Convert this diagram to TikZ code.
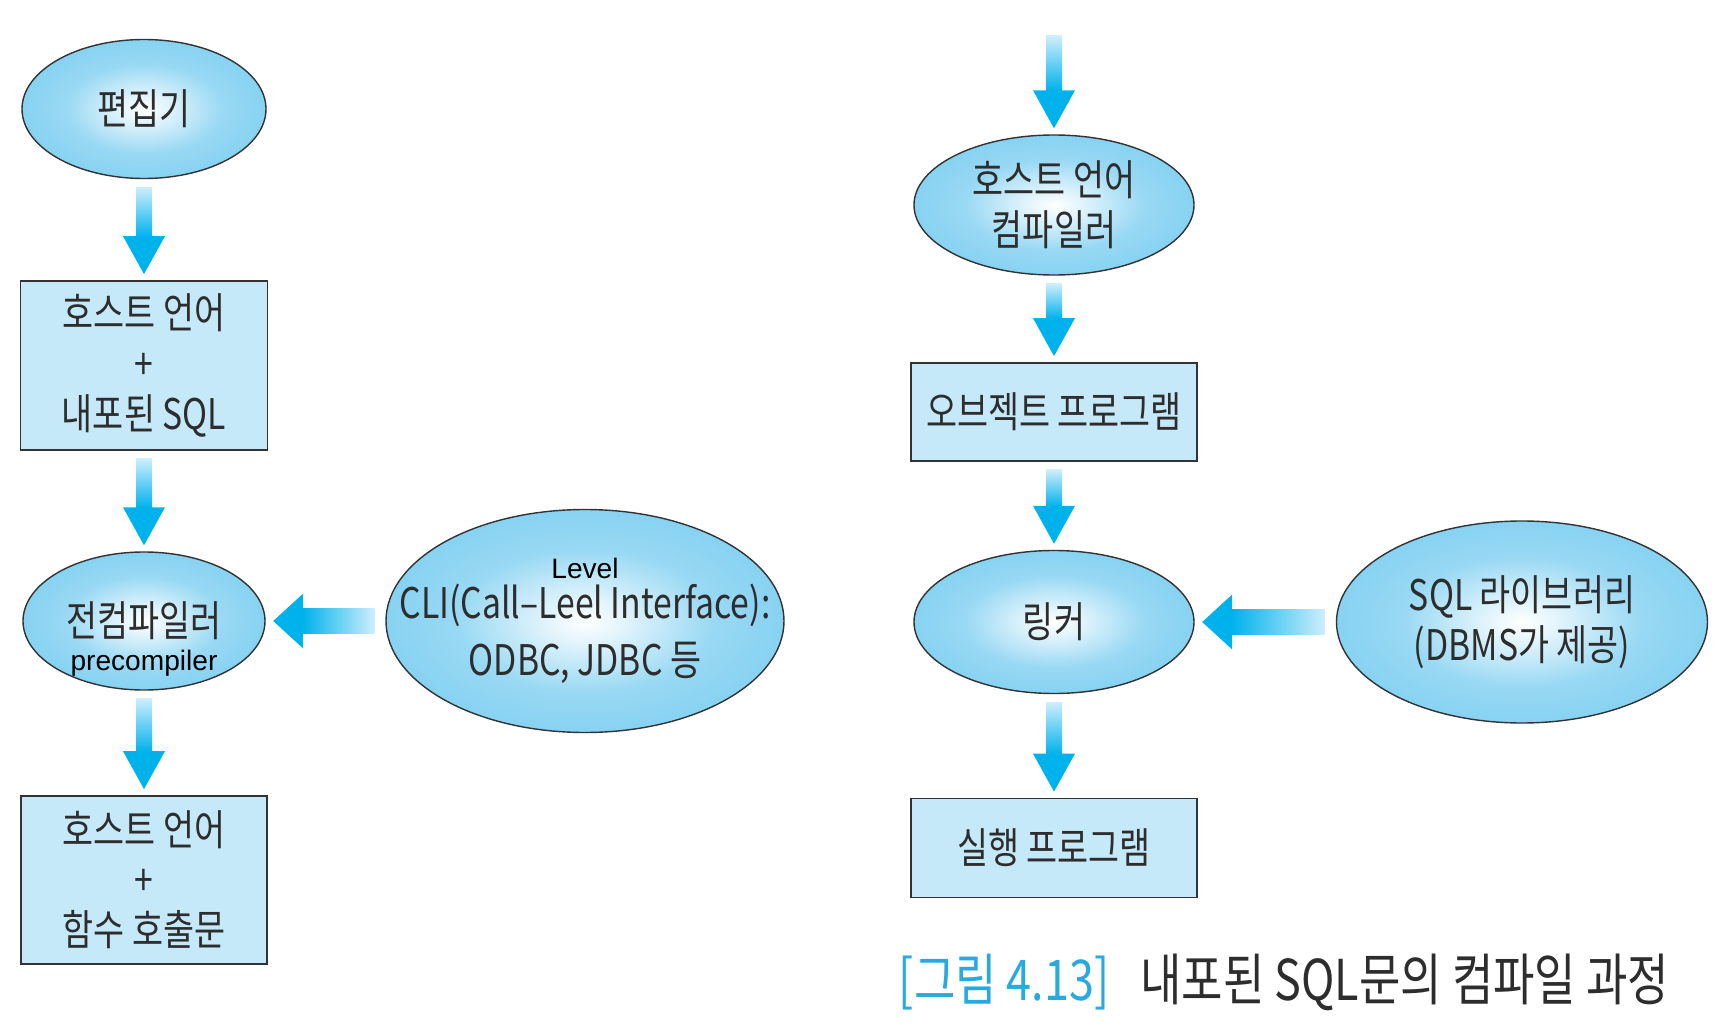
\documentclass[tikz,border=0pt]{standalone}
\usepackage{fontspec}
\setmainfont{Liberation Sans}
\newfontfamily\krfont[FakeStretch=0.8]{Noto Sans CJK KR}
\usetikzlibrary{calc,shapes.geometric}
\definecolor{arrblue}{RGB}{0,178,236}
\definecolor{arrlight}{RGB}{205,238,252}
\definecolor{ellblue}{RGB}{135,210,242}
\definecolor{boxblue}{RGB}{198,233,250}
\definecolor{textgray}{RGB}{45,45,45}
\definecolor{capblue}{RGB}{40,170,225}
\pgfdeclareradialshading{ellshade}{\pgfpointorigin}{color(0bp)=(white); color(5bp)=(white!75!ellblue); color(16bp)=(ellblue!85!white); color(25bp)=(ellblue); color(50bp)=(ellblue)}

\begin{document}
\begin{tikzpicture}[
ell/.style={ellipse, draw=black!80, line width=0.8pt, shade, shading=ellshade, inner sep=0pt, text=textgray, font=\krfont\fontsize{24}{28.5}\selectfont, align=center},
box/.style={rectangle, draw=black!80, line width=1pt, fill=boxblue, inner sep=0pt, text=textgray, font=\krfont\fontsize{24}{28.5}\selectfont, align=center}
]

\def\vshaft{0.16};
\def\vhead{0.42};
\def\vheadl{0.76};
\def\hshaft{0.25};
\def\hhead{0.55};
\def\hheadl{0.6};
\def\gapt{0.16};
\def\gapb{0.12};
\def\hgapt{0.22};
\def\hgapb{0.15};

\useasboundingbox (0,0) rectangle (34.48,-20.64);

% left column
\node [ell, minimum width=4.88cm, minimum height=2.78cm] (edit) at (2.88,-2.18) {편집기};
\node [box, minimum width=4.94cm, minimum height=3.38cm] (src) at (2.88,-7.31) {호스트 언어\\+\\내포된 SQL};
\node [ell, minimum width=4.84cm, minimum height=2.76cm] (pre) at (2.88,-12.42) {전컴파일러};
\node [font=\fontsize{16}{18}\selectfont, inner sep=0pt] (prelbl) at ($(pre.center)+(0,-0.84)$) {precompiler};
\node [ell, inner xsep=-1cm, minimum width=7.96cm, minimum height=4.46cm] (cli) at (11.70,-12.42) {{\normalfont\fontsize{16}{18}\selectfont\color{black} Level}\\[-5.7pt]CLI(Call–Leel Interface):\\[4pt]ODBC, JDBC 등};
\node [box, minimum width=4.92cm, minimum height=3.36cm] (out) at (2.88,-17.60) {호스트 언어\\+\\함수 호출문};

% right column
\coordinate (topin) at (21.08,-0.72);
\node [ell, minimum width=5.60cm, minimum height=2.80cm] (hcomp) at (21.08,-4.10) {호스트 언어\\컴파일러};
\node [box, minimum width=5.72cm, minimum height=1.96cm] (obj) at (21.08,-8.24) {오브젝트 프로그램};
\node [ell, minimum width=5.60cm, minimum height=2.86cm] (link) at (21.08,-12.44) {링커};
\node [ell, minimum width=7.42cm, minimum height=4.04cm] (lib) at (30.44,-12.44) {SQL 라이브러리\\(DBMS가 제공)};
\node [box, minimum width=5.72cm, minimum height=1.98cm] (exe) at (21.08,-16.96) {실행 프로그램};

\node [font=\krfont\fontsize{32}{38}\selectfont, text=textgray, inner sep=0pt] (cap) at (25.68,-19.64) {\textcolor{capblue}{[그림 4.13]}\hspace{0.55em}내포된 SQL문의 컴파일 과정};

% down arrows
\coordinate (t) at ($(hcomp.north)+(0,\gapb)$);
\shade [top color=arrlight, bottom color=arrblue] ($(topin)+(-\vshaft,0)$) rectangle ($(t)+(\vshaft,\vheadl-0.01)$);
\fill [arrblue] ($(t)+(-\vhead,\vheadl)$) -- (t) -- ($(t)+(\vhead,\vheadl)$) -- cycle;

\foreach \a/\b in {edit/src, src/pre, pre/out, hcomp/obj, obj/link, link/exe}
{
\coordinate (s) at ($(\a.south)+(0,-\gapt)$);
\coordinate (t) at ($(\b.north)+(0,\gapb)$);
\shade [top color=arrlight, bottom color=arrblue] ($(s)+(-\vshaft,0)$) rectangle ($(t)+(\vshaft,\vheadl-0.01)$);
\fill [arrblue] ($(t)+(-\vhead,\vheadl)$) -- (t) -- ($(t)+(\vhead,\vheadl)$) -- cycle;
}

% left arrows
\foreach \a/\b in {cli/pre, lib/link}
{
\coordinate (s) at ($(\a.west)+(-\hgapt,0)$);
\coordinate (t) at ($(\b.east)+(\hgapb,0)$);
\shade [left color=arrblue, right color=arrlight] ($(t)+(\hheadl-0.01,-\hshaft)$) rectangle ($(s)+(0,\hshaft)$);
\fill [arrblue] ($(t)+(\hheadl,\hhead)$) -- (t) -- ($(t)+(\hheadl,-\hhead)$) -- cycle;
}

\end{tikzpicture}
\end{document}
